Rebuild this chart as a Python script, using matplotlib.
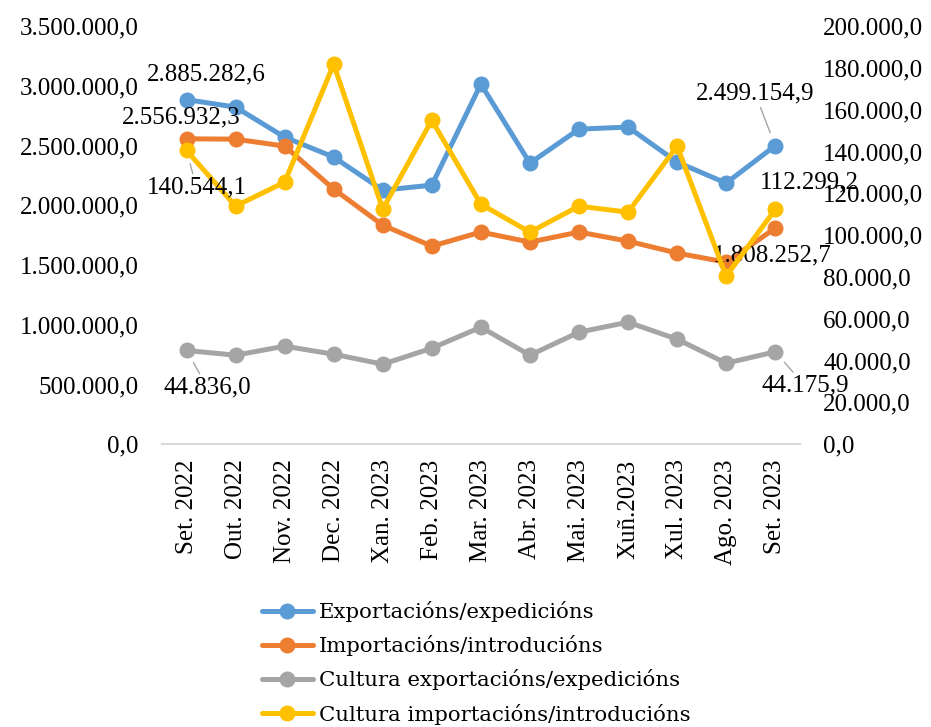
import matplotlib.pyplot as plt
from matplotlib.ticker import FuncFormatter

months = ['Set. 2022', 'Out. 2022', 'Nov. 2022', 'Dec. 2022', 'Xan. 2023', 'Feb. 2023',
          'Mar. 2023', 'Abr. 2023', 'Mai. 2023', 'Xuñ.2023', 'Xul. 2023', 'Ago. 2023', 'Set. 2023']

# left axis
exports = [2885282.6, 2822000, 2571000, 2404000, 2127000, 2169000, 3015000,
           2353000, 2638000, 2655000, 2362000, 2186000, 2499154.9]
imports = [2556932.3, 2554000, 2496000, 2136000, 1834000, 1658000, 1776000,
           1692000, 1776000, 1700000, 1600000, 1524000, 1808252.7]
# right axis
cult_exports = [44836.0, 42580, 46900, 43060, 38280, 45930, 55980,
                42580, 53590, 58370, 50240, 38760, 44175.9]
cult_imports = [140544.1, 113900, 125360, 181800, 112440, 155000, 114830,
                101440, 113900, 111000, 142580, 80380, 112299.2]

labels = ['Exportacións/expedicións', 'Importacións/introducións',
          'Cultura exportacións/expedicións', 'Cultura importacións/introducións']
colors = ['#5B9BD5', '#ED7D31', '#A5A5A5', '#FFC000']

plt.rcParams['font.family'] = ['Liberation Serif', 'DejaVu Serif']


def fmt(v, pos=None):
    s = f'{v:,.1f}'
    return s.replace(',', 'X').replace('.', ',').replace('X', '.')


fig = plt.figure(figsize=(9.31, 7.27), dpi=100)
ax = fig.add_axes([0.174, 0.389, 0.685, 0.575])
ax2 = ax.twinx()

x = list(range(len(months)))
style = dict(lw=3.6, marker='o', markersize=10.5, solid_capstyle='round')
h1, = ax.plot(x, exports, color=colors[0], label=labels[0], **style)
h2, = ax.plot(x, imports, color=colors[1], label=labels[1], **style)
h3, = ax2.plot(x, cult_exports, color=colors[2], label=labels[2], **style)
h4, = ax2.plot(x, cult_imports, color=colors[3], label=labels[3], **style)

ax.set_xlim(-0.5, 12.5)
ax.set_ylim(0, 3500000)
ax2.set_ylim(0, 200000)
ax.set_yticks(range(0, 3500001, 500000))
ax2.set_yticks(range(0, 200001, 20000))
ax.yaxis.set_major_formatter(FuncFormatter(fmt))
ax2.yaxis.set_major_formatter(FuncFormatter(fmt))
ax.set_xticks(x)
ax.set_xticklabels(months, rotation=90)

for a in (ax, ax2):
    for side in ['top', 'left', 'right']:
        a.spines[side].set_visible(False)
    a.spines['bottom'].set_color('#d9d9d9')
    a.spines['bottom'].set_linewidth(1.5)
    a.tick_params(length=0, labelsize=18, pad=17)
ax.tick_params(axis='x', pad=11)

# data labels (first and last point of each series)
lead = dict(arrowstyle='-', color='#a6a6a6', lw=1, shrinkA=0, shrinkB=10)
fs = 18
ax.annotate(fmt(exports[0]), (0, exports[0]), xytext=(20, 25), textcoords='offset pixels',
            ha='center', va='center', fontsize=fs)
ax.annotate(fmt(imports[0]), (0, imports[0]), xytext=(-5, 21), textcoords='offset pixels',
            ha='center', va='center', fontsize=fs)
ax2.annotate(fmt(cult_imports[0]), (0, cult_imports[0]), xytext=(10, -37), textcoords='offset pixels',
             ha='center', va='center', fontsize=fs, arrowprops=lead)
ax2.annotate(fmt(cult_exports[0]), (0, cult_exports[0]), xytext=(21, -37), textcoords='offset pixels',
             ha='center', va='center', fontsize=fs, arrowprops=lead)
ax.annotate(fmt(exports[-1]), (12, exports[-1]), xytext=(-20, 52), textcoords='offset pixels',
            ha='center', va='center', fontsize=fs, arrowprops=lead)
ax2.annotate(fmt(cult_imports[-1]), (12, cult_imports[-1]), xytext=(34, 27), textcoords='offset pixels',
             ha='center', va='center', fontsize=fs)
ax.annotate(fmt(imports[-1]), (12, imports[-1]), xytext=(-3, -27), textcoords='offset pixels',
            ha='center', va='center', fontsize=fs)
ax2.annotate(fmt(cult_exports[-1]), (12, cult_exports[-1]), xytext=(30, -34), textcoords='offset pixels',
             ha='center', va='center', fontsize=fs, arrowprops=lead)

fig.legend(handles=[h1, h2, h3, h4], loc='upper left', bbox_to_anchor=(0.272, 0.185),
           frameon=False, prop={'family': 'DejaVu Serif', 'size': 15.3},
           handlelength=2.4, handletextpad=0.3, labelspacing=0.62, borderaxespad=0)

fig.savefig('out.png', dpi=100)
